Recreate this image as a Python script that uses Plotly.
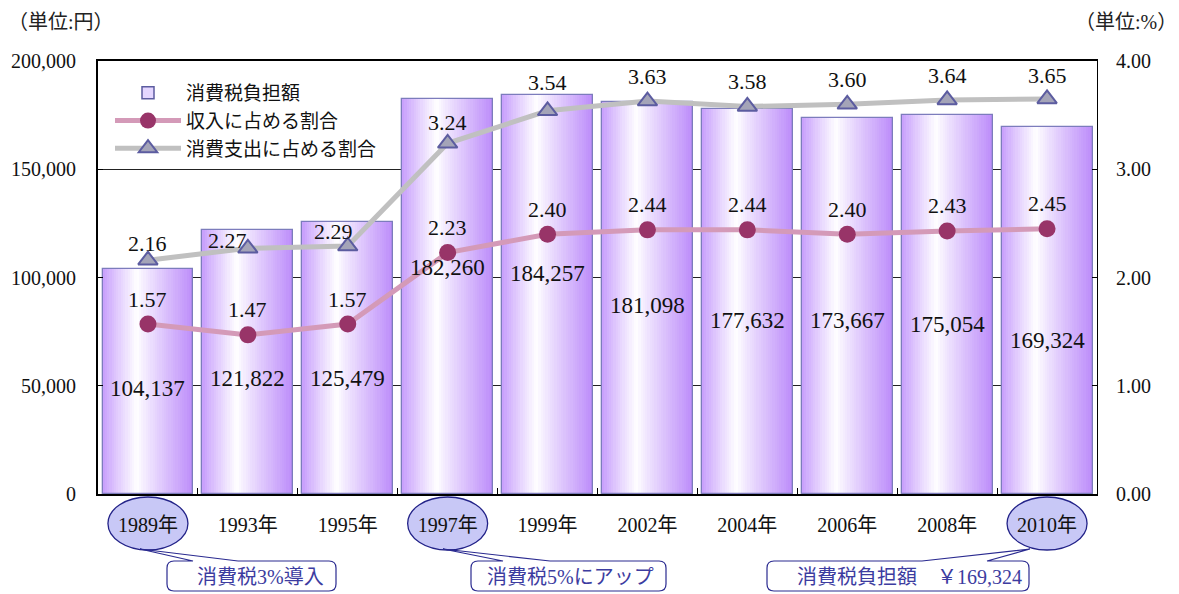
import plotly.graph_objects as go

# ---------------- data ----------------
years = ["1989年", "1993年", "1995年", "1997年", "1999年",
         "2002年", "2004年", "2006年", "2008年", "2010年"]
tax_burden = [104137, 121822, 125479, 182260, 184257,
              181098, 177632, 173667, 175054, 169324]
ratio_income = [1.57, 1.47, 1.57, 2.23, 2.40, 2.44, 2.44, 2.40, 2.43, 2.45]
ratio_spending = [2.16, 2.27, 2.29, 3.24, 3.54, 3.63, 3.58, 3.60, 3.64, 3.65]

# label placement (layout only, left-axis units / pixel shifts)
bar_label_pos = [48960, 53580, 53580, 104850, 101620, 86840, 79910, 79910, 78520, 71130]
spend_label_shift = [(0, 17), (-20, 8), (-14, 15), (0, 21), (0, 28),
                     (0, 25), (0, 25), (0, 25), (0, 24), (0, 23)]
income_label_shift = 25

SERIF = "Liberation Serif, 'Noto Sans CJK JP', serif"
SANS = "'Noto Sans CJK JP', 'Noto Sans', sans-serif"

W, H = 1179, 594
L, R, T, B = 98, 82, 61, 100
PW, PH = W - L - R, H - T - B


def px(x):
    return (x - L) / PW


def py(y):
    return (H - B - y) / PH


fig = go.Figure()

# ---------------- gradient bars (sliced) ----------------
BW = 0.91
N = 40
c_left = (198, 156, 252)
c_mid = (255, 255, 255)
c_right = (188, 140, 250)
t_mid = 0.38


def grad(t):
    if t <= t_mid:
        a, b, f = c_left, c_mid, t / t_mid
    else:
        a, b, f = c_mid, c_right, (t - t_mid) / (1 - t_mid)
    f = f ** 0.9
    return "rgb(%d,%d,%d)" % tuple(round(a[i] + (b[i] - a[i]) * f) for i in range(3))


for k in range(N):
    t = (k + 0.5) / N
    w = BW / N + (0.004 if k < N - 1 else 0)
    fig.add_trace(go.Bar(
        x=years, y=tax_burden, yaxis="y",
        offset=-BW / 2 + k * BW / N, width=w,
        marker=dict(color=grad(t), line=dict(width=0)),
        showlegend=False, hoverinfo="skip",
    ))

fig.add_trace(go.Bar(
    x=years, y=tax_burden, yaxis="y", width=BW, name="消費税負担額",
    marker=dict(color="rgba(0,0,0,0)", line=dict(color="#7C7CBC", width=1.3)),
    showlegend=False,
))
# legend entry for the bars (filled swatch)
fig.add_trace(go.Bar(
    x=[years[0]], y=[None], yaxis="y", name="消費税負担額",
    marker=dict(color="#E4D6FF", line=dict(color="#5C5CA0", width=1.5)),
    legendrank=1, hoverinfo="skip",
))

# ---------------- lines ----------------
fig.add_trace(go.Scatter(
    x=years, y=ratio_income, yaxis="y2", mode="lines+markers",
    name="収入に占める割合",
    line=dict(color="#D49AB8", width=5),
    marker=dict(symbol="circle", size=17, color="#983468"),
    legendrank=2,
))
fig.add_trace(go.Scatter(
    x=years, y=ratio_spending, yaxis="y2", mode="lines+markers",
    name="消費支出に占める割合",
    line=dict(color="#C0C0C0", width=5),
    marker=dict(symbol="triangle-up", size=17, color="#A4A4B8",
                line=dict(color="#5C5CA0", width=2)),
    legendrank=3,
))

annotations = []
for i, (yr, v) in enumerate(zip(years, tax_burden)):
    annotations.append(dict(
        x=yr, y=bar_label_pos[i], xref="x", yref="y", text=f"{v:,}",
        showarrow=False, font=dict(family=SERIF, size=23, color="#111")))
for i, (yr, v) in enumerate(zip(years, ratio_income)):
    annotations.append(dict(
        x=yr, y=v, xref="x", yref="y2", text=f"{v:.2f}", yshift=income_label_shift,
        showarrow=False, font=dict(family=SERIF, size=22, color="#111")))
for i, (yr, v) in enumerate(zip(years, ratio_spending)):
    dx, dy = spend_label_shift[i]
    annotations.append(dict(
        x=yr, y=v, xref="x", yref="y2", text=f"{v:.2f}", xshift=dx, yshift=dy,
        showarrow=False, font=dict(family=SERIF, size=22, color="#111")))

# unit labels
annotations.append(dict(x=px(6), y=py(22), xref="paper", yref="paper",
                        xanchor="left", yanchor="middle",
                        text="（単位:円）", showarrow=False,
                        font=dict(family=SERIF, size=20, color="#222")))
annotations.append(dict(x=px(1179), y=py(22), xref="paper", yref="paper",
                        xanchor="right", yanchor="middle",
                        text="（単位:%）", showarrow=False,
                        font=dict(family=SERIF, size=20, color="#222")))

# callouts
callouts = [
    # idx, box x0, x1, gap0, gap1, tip x, text, text center
    (0, 167, 336, 193, 238, 140, "消費税3%導入", 260),
    (3, 471, 666, 503, 550, 443, "消費税5%にアップ", 570),
    (9, 767, 1029, 922, 987, 1030, "消費税負担額　￥169,324", 909),
]
shapes = []
ELW, ELY0, ELY1 = 40, 497, 550
for idx, x0, x1, g0, g1, tx, txt, tcx in callouts:
    cx = (idx + 0.5) / len(years)
    shapes.append(dict(type="circle", xref="paper", yref="paper", layer="below",
                       x0=cx - ELW / PW, x1=cx + ELW / PW, y0=py(ELY1), y1=py(ELY0),
                       fillcolor="#C8C8F6", line=dict(color="#222288", width=1.3)))
    y0, y1, r = 561, 591, 7
    pts = (f"M {px(g1)},{py(y0)} L {px(x1 - r)},{py(y0)} "
           f"Q {px(x1)},{py(y0)} {px(x1)},{py(y0 + r)} "
           f"L {px(x1)},{py(y1 - r)} Q {px(x1)},{py(y1)} {px(x1 - r)},{py(y1)} "
           f"L {px(x0 + r)},{py(y1)} Q {px(x0)},{py(y1)} {px(x0)},{py(y1 - r)} "
           f"L {px(x0)},{py(y0 + r)} Q {px(x0)},{py(y0)} {px(x0 + r)},{py(y0)} "
           f"L {px(g0)},{py(y0)} L {px(tx)},{py(ELY1 - 1)} L {px(g1)},{py(y0)}")
    shapes.append(dict(type="path", xref="paper", yref="paper", path=pts,
                       line=dict(color="#2A2A90", width=1.2),
                       fillcolor="rgba(0,0,0,0)"))
    annotations.append(dict(x=px(tcx), y=py(577), xref="paper", yref="paper",
                            xanchor="center", yanchor="middle",
                            text=txt, showarrow=False,
                            font=dict(family=SERIF, size=20, color="#3C3CA0")))

fig.update_layout(
    width=W, height=H,
    margin=dict(l=L, r=R, t=T, b=B),
    paper_bgcolor="white", plot_bgcolor="white",
    barmode="overlay", bargap=0,
    showlegend=True,
    legend=dict(x=px(110), y=py(74), xanchor="left", yanchor="top",
                bgcolor="rgba(0,0,0,0)", borderwidth=0,
                font=dict(family=SANS, size=19, color="#111"),
                itemwidth=66, traceorder="normal", tracegroupgap=0),
    xaxis=dict(type="category", range=[-0.5, 9.5],
               showline=True, linecolor="black", linewidth=1.5, mirror=True,
               ticks="inside", tickson="boundaries", ticklen=6, tickcolor="black",
               tickfont=dict(family=SERIF, size=20, color="#111"),
               ticklabelstandoff=12, showgrid=False),
    yaxis=dict(range=[0, 200000], tickvals=[0, 50000, 100000, 150000, 200000],
               tickformat=",", showgrid=True, gridcolor="#222", gridwidth=1,
               showline=True, linecolor="black", linewidth=2,
               ticks="inside", ticklen=5, tickcolor="black", zeroline=False,
               tickfont=dict(family=SERIF, size=20, color="#111"),
               ticklabelstandoff=16),
    yaxis2=dict(range=[0, 4], tickvals=[0, 1, 2, 3, 4], tickformat=".2f",
                overlaying="y", side="right", showgrid=False, zeroline=False,
                showline=True, linecolor="black", linewidth=1,
                ticks="inside", ticklen=5, tickcolor="black",
                tickfont=dict(family=SERIF, size=20, color="#111"),
                ticklabelstandoff=14),
    annotations=annotations,
    shapes=shapes,
)

fig.write_html("out.html",
               config={"displayModeBar": False},
               post_script="document.body.style.margin='0px';"
                           "document.body.style.overflow='hidden';")
